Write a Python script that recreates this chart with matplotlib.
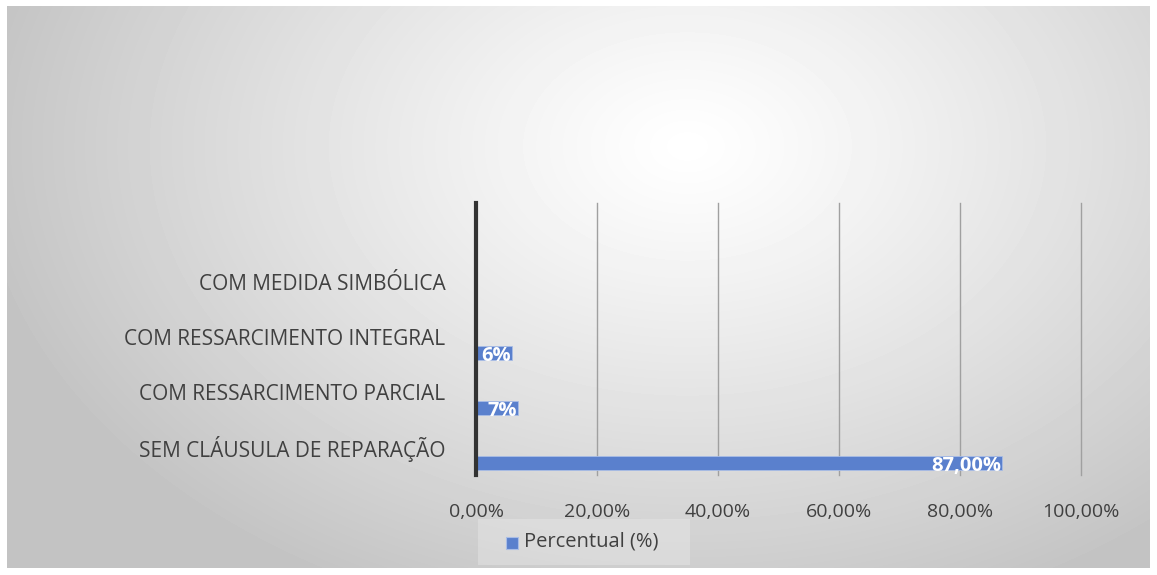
import matplotlib.pyplot as plt
import numpy as np
from matplotlib.patches import Rectangle

categories = ['SEM CLÁUSULA DE REPARAÇÃO', 'COM RESSARCIMENTO PARCIAL',
              'COM RESSARCIMENTO INTEGRAL', 'COM MEDIDA SIMBÓLICA']
values = [87.0, 7.0, 6.0, 0.0]
value_labels = ['87,00%', '7%', '6%', '']
xticks = [0, 20, 40, 60, 80, 100]
xtick_labels = ['0,00%', '20,00%', '40,00%', '60,00%', '80,00%', '100,00%']

BAR = '#5a80cd'
TXT = '#404040'


def main():
    plt.rcParams['font.family'] = ['Open Sans', 'DejaVu Sans']
    W, H = 1157, 575
    fig = plt.figure(figsize=(W / 100, H / 100), dpi=100)
    fig.patch.set_facecolor('white')

    # radial gradient background of the chart area
    bg = fig.add_axes([7 / W, 1 - 568 / H, (1150 - 7) / W, (568 - 6) / H])
    yy, xx = np.mgrid[0:562, 0:1143]
    d = np.sqrt(((xx - 680) / 720) ** 2 + ((yy - 140) / 500) ** 2)
    shade = 1 - 0.235 * np.clip(d, 0, 1) ** 1.15
    bg.imshow(shade, cmap='gray', vmin=0, vmax=1, aspect='auto', interpolation='bilinear')
    bg.axis('off')

    ax = fig.add_axes([476 / W, 1 - 475 / H, (1081 - 476) / W, (475 - 203) / H])
    ax.patch.set_alpha(0)
    pos = np.arange(len(categories))
    ax.barh(pos, values, height=0.25, color=BAR, edgecolor='#a9bde6', linewidth=0.6, zorder=3)
    for p, v, lab in zip(pos, values, value_labels):
        if lab:
            ax.text(v - 0.2, p - 0.06, lab, color='white', fontsize=14.5, fontweight='bold',
                    ha='right', va='center', zorder=4)
    ax.set_xlim(0, 100)
    ax.set_ylim(-0.22, 4.73)
    ax.set_xticks(xticks)
    ax.set_xticklabels(xtick_labels, fontsize=14, color=TXT)
    ax.set_yticks(pos + 0.29)
    ax.set_yticklabels(categories, fontsize=15, color=TXT)
    ax.tick_params(axis='both', length=0)
    ax.tick_params(axis='x', pad=20)
    ax.tick_params(axis='y', pad=22)
    ax.grid(axis='x', color='#a0a0a0', linewidth=1, zorder=1)
    for gl in ax.get_xgridlines():
        gl.set_clip_on(False)
    for s in ['top', 'right', 'bottom']:
        ax.spines[s].set_visible(False)
    ax.spines['left'].set_linewidth(3)
    ax.spines['left'].set_color('#333333')
    ax.spines['left'].set_zorder(5)

    # legend box
    fig.patches.append(Rectangle((478 / W, 1 - 565 / H), 212 / W, 46 / H,
                                 transform=fig.transFigure, facecolor='#f4f4f4',
                                 edgecolor='none', alpha=0.3))
    fig.patches.append(Rectangle((506 / W, 1 - 549 / H), 12 / W, 12 / H,
                                 transform=fig.transFigure, facecolor=BAR,
                                 edgecolor='#a9bde6', linewidth=0.8))
    fig.text(524 / W, 1 - 542 / H, 'Percentual (%)', fontsize=14.5, color=TXT,
             ha='left', va='center')

    fig.savefig('out.png', dpi=100)


if __name__ == '__main__':
    main()
